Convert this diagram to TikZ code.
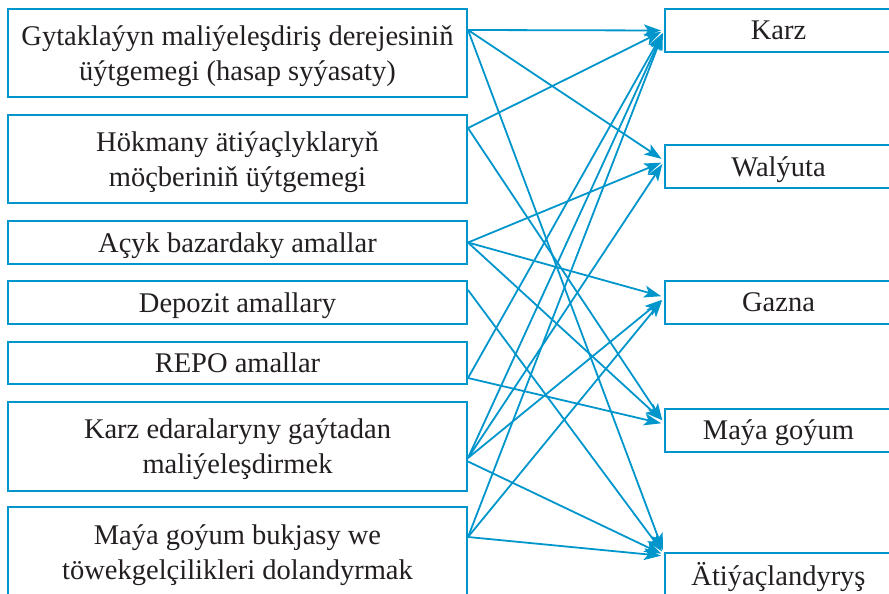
\documentclass[tikz,border=0pt]{standalone}
\usepackage{fontspec}
\setmainfont{Liberation Serif}
\usetikzlibrary{arrows.meta}
\definecolor{mapblue}{RGB}{0,150,204}
\definecolor{inkgray}{RGB}{35,31,32}
\tikzset{
  lbox/.style={draw=mapblue, line width=2pt, minimum width=459pt, minimum height=88pt,
    inner sep=0pt, align=center, text=inkgray, text depth=0pt,
    font=\fontsize{28.5}{35}\selectfont},
  rbox/.style={lbox, minimum width=227pt, minimum height=43pt},
  link/.style={draw=mapblue, line width=1.8pt, shorten >=3pt,
    -{Stealth[length=17pt,width=12pt,inset=4pt]}}
}
\begin{document}
\begin{tikzpicture}[x=1pt,y=-1pt]
\useasboundingbox (0,0) rectangle (889,594);

% Left column: the tools
\node[lbox] (gytak) at (237.5,53) {Gytaklaýyn maliýeleşdiriş derejesiniň\\üýtgemegi (hasap syýasaty)};
\node[lbox] (hokm) at (237.5,159) {Hökmany ätiýaçlyklaryň\\möçberiniň üýtgemegi};
\node[lbox, minimum height=43pt] (acyk) at (237.5,242.5) {Açyk bazardaky amallar};
\node[lbox, minimum height=43pt] (depo) at (237.5,302.5) {Depozit amallary};
\node[lbox, minimum height=42pt] (repo) at (237.5,363) {REPO amallar};
\node[lbox, minimum height=89pt] (karzed) at (237.5,446.5) {Karz edaralaryny gaýtadan\\maliýeleşdirmek};
\node[lbox, minimum height=91pt] (maya) at (237.5,552.5) {Maýa goýum bukjasy we\\töwekgelçilikleri dolandyrmak};

% Right column: the targets
\node[rbox] (karz) at (778.5,30.5) {Karz};
\node[rbox] (walyuta) at (778.5,166.5) {Walýuta};
\node[rbox] (gazna) at (778.5,302) {Gazna};
\node[rbox] (mayagoy) at (778.5,430) {Maýa goýum};
\node[rbox] (atiyac) at (778.5,574) {Ätiýaçlandyryş};

% Arrows
\draw[link] ([yshift=23pt]gytak.east) -- (karz.west);
\draw[link] ([yshift=23pt]gytak.east) -- ([yshift=6pt]walyuta.west);
\draw[link] ([yshift=23pt]gytak.east) -- ([yshift=21pt]atiyac.west);
\draw[link] ([yshift=31pt]hokm.east) -- (karz.west);
\draw[link] ([yshift=31pt]hokm.east) -- ([yshift=7pt]mayagoy.west);
\draw[link] (acyk.east) -- ([yshift=5pt]walyuta.west);
\draw[link] (acyk.east) -- ([yshift=5pt]gazna.west);
\draw[link] (acyk.east) -- ([yshift=8pt]mayagoy.west);
\draw[link] ([yshift=12.5pt]depo.east) -- ([yshift=20pt]atiyac.west);
\draw[link] ([yshift=-15pt]repo.east) -- (karz.west);
\draw[link] ([yshift=-15pt]repo.east) -- ([yshift=6pt]mayagoy.west);
\draw[link] ([yshift=-11.5pt]karzed.east) -- (karz.west);
\draw[link] ([yshift=-11.5pt]karzed.east) -- ([yshift=5pt]walyuta.west);
\draw[link] ([yshift=-11.5pt]karzed.east) -- ([yshift=4pt]gazna.west);
\draw[link] ([yshift=-15pt]karzed.east) -- ([yshift=19pt]atiyac.west);
\draw[link] ([yshift=15.5pt]maya.east) -- (karz.west);
\draw[link] ([yshift=15.5pt]maya.east) -- ([yshift=4pt]gazna.west);
\draw[link] ([yshift=15.5pt]maya.east) -- ([yshift=18pt]atiyac.west);
\end{tikzpicture}
\end{document}
